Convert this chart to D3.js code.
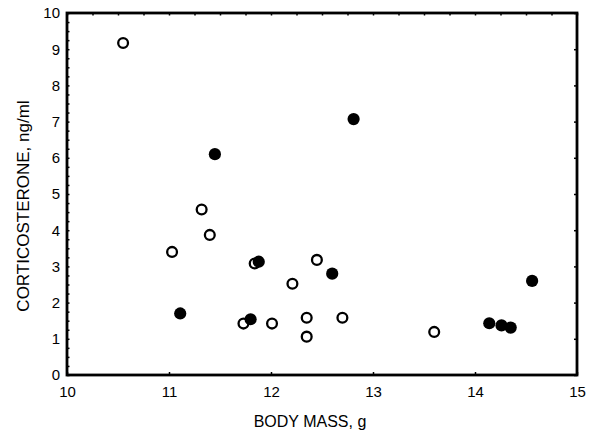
<!DOCTYPE html>
<html lang="en">
<head>
<meta charset="UTF-8">
<title>Corticosterone vs body mass</title>
<style>
  body { margin: 0; background: #fff; }
  svg text { font-family: Arial, "Liberation Sans", sans-serif; fill: #000; }
</style>
</head>
<body>
<div id="chart"></div>
<script src="https://d3js.org/d3.v7.min.js"></script>
<script>
// open circles
const openMass = [10.55, 11.03, 11.32, 11.40, 11.73, 11.84, 12.01, 12.21, 12.35, 12.35, 12.45, 12.70, 13.60];
const openCort = [9.17, 3.40, 4.57, 3.87, 1.42, 3.08, 1.42, 2.52, 1.58, 1.06, 3.18, 1.58, 1.19];
// filled circles
const filledMass = [11.11, 11.45, 11.80, 11.88, 12.60, 12.81, 14.14, 14.26, 14.35, 14.56];
const filledCort = [1.70, 6.10, 1.54, 3.13, 2.80, 7.07, 1.43, 1.37, 1.31, 2.60];

const xTicks = [10, 11, 12, 13, 14, 15];
const yTicks = [0, 1, 2, 3, 4, 5, 6, 7, 8, 9, 10];
const xTitle = "BODY MASS, g";
const yTitle = "CORTICOSTERONE, ng/ml";

const width = 590, height = 435;
const margin = {top: 13, right: 13, bottom: 60, left: 67};
const plotW = width - margin.left - margin.right;
const plotH = height - margin.top - margin.bottom;

const svg = d3.select("#chart").append("svg")
    .attr("width", width)
    .attr("height", height);

const x = d3.scaleLinear().domain([10, 15]).range([margin.left, margin.left + plotW]);
const y = d3.scaleLinear().domain([0, 10]).range([margin.top + plotH, margin.top]);

const minorX = d3.range(10, 15.001, 0.25);
const minorY = d3.range(0, 10.001, 0.25);

// left axis: small inward ticks every 0.25, labels on integers
const left = svg.append("g")
    .attr("transform", `translate(${margin.left},0)`)
    .call(d3.axisLeft(y).tickValues(minorY).tickSize(-2.5).tickPadding(7)
        .tickFormat(d => Number.isInteger(d) ? d : ""));
left.selectAll("text").style("font-size", "15px");

// bottom axis: inward ticks on integers
const bottom = svg.append("g")
    .attr("transform", `translate(0,${margin.top + plotH})`)
    .call(d3.axisBottom(x).tickValues(xTicks).tickSize(-3).tickPadding(11).tickFormat(d3.format("d")));
bottom.selectAll("text").style("font-size", "15px");

// top axis: small ticks every 0.25
svg.append("g")
    .attr("transform", `translate(0,${margin.top})`)
    .call(d3.axisTop(x).tickValues(minorX).tickSize(-2.5).tickFormat(""));

// right axis: ticks on integers
svg.append("g")
    .attr("transform", `translate(${margin.left + plotW},0)`)
    .call(d3.axisRight(y).tickValues(yTicks).tickSize(-3).tickFormat(""));

svg.selectAll(".domain").remove();
svg.selectAll(".tick line").attr("stroke", "#000").attr("stroke-width", 1.5);

// frame
svg.append("rect")
    .attr("x", margin.left)
    .attr("y", margin.top)
    .attr("width", plotW)
    .attr("height", plotH)
    .attr("fill", "none")
    .attr("stroke", "#000")
    .attr("stroke-width", 2.8);

// points
const openPts = openMass.map((m, i) => ({m: m, c: openCort[i]}));
const filledPts = filledMass.map((m, i) => ({m: m, c: filledCort[i]}));

svg.append("g").selectAll("circle")
    .data(openPts)
    .join("circle")
    .attr("cx", d => x(d.m))
    .attr("cy", d => y(d.c))
    .attr("r", 4.9)
    .attr("fill", "#fff")
    .attr("stroke", "#000")
    .attr("stroke-width", 2.3);

svg.append("g").selectAll("circle")
    .data(filledPts)
    .join("circle")
    .attr("cx", d => x(d.m))
    .attr("cy", d => y(d.c))
    .attr("r", 6.1)
    .attr("fill", "#000");

// titles
svg.append("text")
    .attr("x", 310)
    .attr("y", 427)
    .attr("text-anchor", "middle")
    .style("font-size", "16px")
    .text(xTitle);

svg.append("text")
    .attr("transform", "translate(29,206) rotate(-90)")
    .attr("text-anchor", "middle")
    .style("font-size", "17px")
    .text(yTitle);
</script>
</body>
</html>
